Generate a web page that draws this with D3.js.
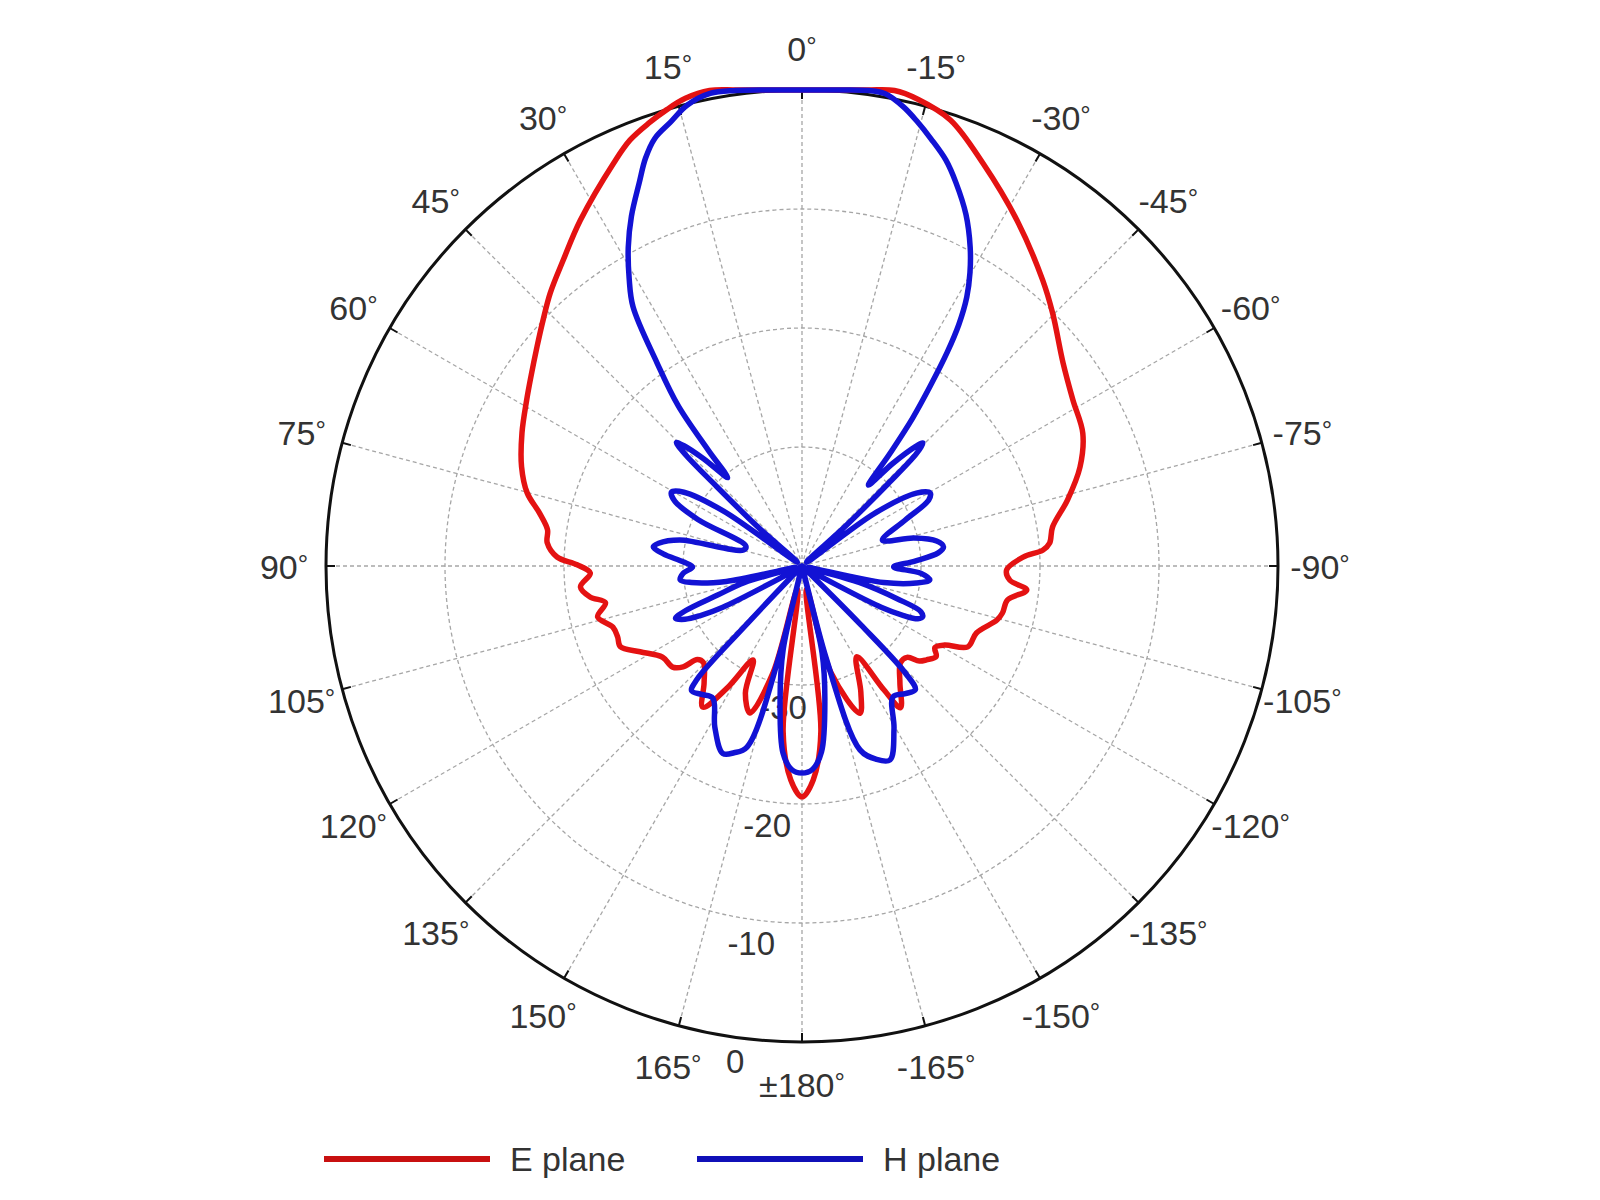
<!DOCTYPE html>
<html><head><meta charset="utf-8">
<script src="https://cdn.jsdelivr.net/npm/d3@7"></script>
<style>body{margin:0;background:#fff}text{font-family:"Liberation Sans",Arial,sans-serif;fill:#333}</style>
</head><body>
<svg id="chart" width="1600" height="1200"></svg>
<script>
// angle in degrees (positive = counter-clockwise from top), gain in dB
const eAngle = [-177,-173.5,-169,-164.8,-158.5,-155,-148.9,-146.5,-145.2,-140,-134.5,-131,-129,-127,-124,-121.5,-119,-116,-111,-105.5,-103.2,-99.4,-96.1,-93.9,-91.1,-87.7,-86.2,-84.7,-81.2,-76,-70.4,-64.7,-58.5,-52.1,-44.8,-40.1,-31.9,-24.2,-18.4,-14,-11,-8,-4,0,4,8,11,14,16.5,19,22,25,32.7,38,42.7,46.5,50.4,55,59,64.6,70.5,75.1,78.6,81.9,84.8,87.9,89.7,91.9,95.4,98.3,100.6,104,107.9,111,114,117.9,123.2,128,130.3,131.8,134.4,140,144.9,148.5,152.5,156,160.5,164.8,169,173.5,177,180];
const eDb = [-22,-26,-38,-30.7,-26.7,-28.3,-31.1,-27.5,-25.5,-27.2,-28.4,-28.3,-27.3,-26.9,-26.4,-26.9,-26.3,-24.5,-24.3,-23.0,-22.7,-22.5,-21.0,-22.5,-22.8,-21.4,-19.7,-19.1,-18.7,-17.0,-15.2,-13.9,-13.3,-12.2,-10.1,-8.6,-5.8,-2.9,-0.5,0.4,0.7,0.4,0.1,0,0.1,0.4,0.7,0.5,0,-0.6,-1.4,-2.6,-5.5,-7.4,-8.8,-10.0,-11.1,-12.2,-13.0,-13.95,-15.0,-16.1,-17.5,-18.4,-18.5,-19.4,-21.1,-22.2,-21.3,-22.0,-23.2,-22.3,-23.3,-23.4,-23.3,-24.6,-26.0,-26.2,-26.9,-28.2,-28.4,-27.2,-25.5,-28,-31.1,-28.3,-26.9,-30.7,-38,-26,-22,-20.6];

const hAngle = [-177,-174,-170.3,-167,-166.2,-165.3,-162.5,-159,-155.6,-150.5,-145.2,-141,-137.5,-136,-135,-134,-128,-121,-117.5,-116,-114.5,-112.9,-111,-109,-106,-103.5,-101.5,-98.5,-96.2,-93.5,-90.6,-87.5,-84.5,-82.3,-79.5,-76,-72.2,-66,-62.5,-60.3,-57.5,-54,-50,-47.5,-46.3,-45.5,-44.5,-43.5,-41.5,-39.4,-38,-36.8,-35.5,-34.2,-33,-31.5,-29.8,-27.8,-25,-21.9,-19.5,-16.8,-14.5,-12.5,-10,-8,-4,0,4,8,11,14,16.5,19,21,23,26,28.6,31,33.1,35.5,37.7,39,40.1,42.5,44.5,45.5,46.3,47,48.5,51,55,58,60.5,63,66,70.5,74.8,78,81,82.7,85,88,90.5,93.5,96.5,98.5,101.5,103.5,106,109,111,112.5,114.5,116,117.5,121,130,135.5,136.5,137.2,138.5,142,146,151.6,157.1,160,163.1,165.8,166.6,167.3,170.7,174.2,177,180];
const hDb = [-22.9,-24.3,-28.6,-32.5,-39.5,-32,-23.8,-22.6,-22.1,-24.3,-26.6,-26.2,-25.9,-27.5,-33,-39,-40,-39.5,-32.5,-30.5,-29.3,-29.0,-29.3,-31.5,-35,-39.5,-33,-30.3,-29.2,-30.0,-32.3,-30.5,-28.5,-28.0,-28.5,-30.3,-32.9,-30.5,-28.0,-27.6,-28.6,-32.5,-39.5,-35,-30,-26.5,-25.5,-26.2,-28.5,-31.2,-28,-24.5,-21.5,-18.3,-15.8,-13.5,-11.6,-9.7,-7.4,-5.3,-3.8,-2.5,-1.4,-0.5,0.3,0.35,0.1,0,0.1,0.35,0.45,-0.1,-1.1,-2.0,-3.3,-5.0,-7.3,-9.5,-11.8,-14,-19,-23,-27.5,-30.3,-27.8,-25.8,-25.2,-26.5,-30,-35,-39.5,-32,-28.3,-27.4,-28,-30.5,-35,-34.9,-29.5,-27.8,-27.4,-28.3,-30.0,-30.8,-30.0,-29.7,-30.6,-33.5,-39.5,-35,-32.5,-29.5,-28.5,-29.2,-30.5,-32.5,-39.5,-40,-39,-33,-27,-26,-26.3,-26.6,-24.6,-22.9,-23.3,-24.1,-32.4,-39.5,-32.8,-28.6,-24.2,-22.9,-22.6];

const rTickLabels = ["-30","-20","-10","0"];
const rLabelValues = [-30,-20,-10,0];
const rTicks = [-30,-20,-10];
const angleTicks = [0,15,30,45,60,75,90,105,120,135,150,165,180,-165,-150,-135,-120,-105,-90,-75,-60,-45,-30,-15];
const angleLabels = ["0°","15°","30°","45°","60°","75°","90°","105°","120°","135°","150°","165°","±180°","-165°","-150°","-135°","-120°","-105°","-90°","-75°","-60°","-45°","-30°","-15°"];
const seriesNames = ["E plane","H plane"];
const seriesColors = ["#e41212","#1212d4"];

const cx = 802, cy = 566, R = 476;
const svg = d3.select("#chart");
const g = svg.append("g").attr("transform", `translate(${cx},${cy})`);
const r = d3.scaleLinear().domain([-40, 0]).range([0, R]);
const rad = d => d * Math.PI / 180;
const px = (deg, rr) => -rr * Math.sin(rad(deg));
const py = (deg, rr) => -rr * Math.cos(rad(deg));

// grid rings
g.selectAll("circle.ring").data(rTicks).join("circle")
  .attr("r", d => r(d)).attr("fill", "none")
  .attr("stroke", "#a6a6a6").attr("stroke-width", 1.3).attr("stroke-dasharray", "4,3");
// spokes
g.selectAll("line.spoke").data(angleTicks).join("line")
  .attr("x1", 0).attr("y1", 0)
  .attr("x2", d => px(d, R)).attr("y2", d => py(d, R))
  .attr("stroke", "#a6a6a6").attr("stroke-width", 1.3).attr("stroke-dasharray", "4,3");

// radial labels
g.selectAll("text.rl").data(rLabelValues).join("text")
  .attr("x", (d) => px(172.3, r(d) + 22)).attr("y", (d) => py(172.3, r(d) + 22) + 2)
  .attr("text-anchor", "middle").attr("dominant-baseline", "central")
  .style("font-size", "33px").text((d, i) => rTickLabels[i]);

// outer circle
g.append("circle").attr("r", R).attr("fill", "none").attr("stroke", "#111").attr("stroke-width", 3);
g.selectAll("line.tick").data(angleTicks).join("line")
  .attr("x1", d => px(d, R)).attr("y1", d => py(d, R))
  .attr("x2", d => px(d, R - 9)).attr("y2", d => py(d, R - 9))
  .attr("stroke", "#111").attr("stroke-width", 2);

// angle labels
const al = g.selectAll("text.al").data(angleTicks).join("text")
  .attr("x", d => px(d, 518)).attr("y", d => py(d, 518) + 1)
  .attr("text-anchor", "middle").attr("dominant-baseline", "central")
  .style("font-size", "34px");
al.append("tspan").text((d, i) => angleLabels[i].replace("°", ""));
al.append("tspan").attr("dy", "-0.12em").style("font-size", "26px").text("°");

const line = d3.lineRadial()
  .angle(d => -rad(d[0]))
  .radius(d => r(d[1]))
  .curve(d3.curveCatmullRomClosed.alpha(0.5));

const eData = eAngle.map((a, i) => [a, eDb[i]]);
const hData = hAngle.map((a, i) => [a, hDb[i]]);
[eData, hData].forEach((data, i) => {
  g.append("path").datum(data).attr("d", line)
    .attr("fill", "none").attr("stroke", seriesColors[i]).attr("stroke-width", 5.5)
    .attr("stroke-linejoin", "round").attr("stroke-linecap", "round");
});

// legend
const legendX = [324, 697];
seriesNames.forEach((name, i) => {
  svg.append("line").attr("x1", legendX[i]).attr("x2", legendX[i] + 166)
    .attr("y1", 1159).attr("y2", 1159)
    .attr("stroke", i === 0 ? "#c81010" : "#1010b8").attr("stroke-width", 6);
  svg.append("text").attr("x", legendX[i] + 186).attr("y", 1171)
    .style("font-size", "34px").text(name);
});
</script>
</body></html>
